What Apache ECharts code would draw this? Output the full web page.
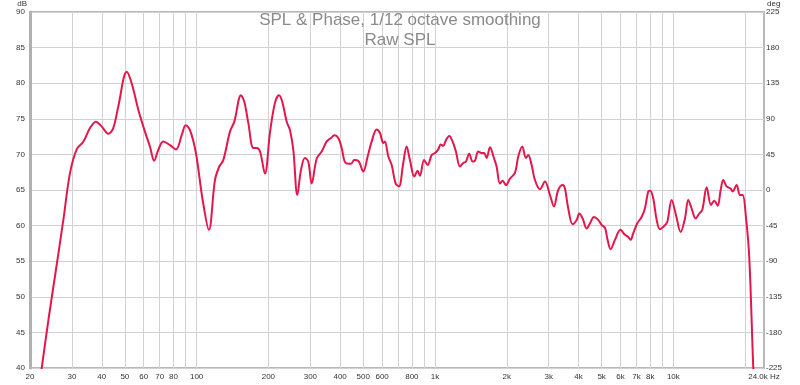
<!DOCTYPE html>
<html>
<head>
<meta charset="utf-8">
<script src="https://cdn.jsdelivr.net/npm/echarts@6/dist/echarts.min.js"></script>
<style>html,body{margin:0;padding:0;background:#fff}#c{width:800px;height:385px}</style>
</head>
<body>
<div id="c"></div>
<script>
const titleLines = ["SPL & Phase, 1/12 octave smoothing", "Raw SPL"];
const freqHz = [21,22.4,24,25.7,27.6,29.4,31.4,33.5,35.7,37.8,40,42.6,44.7,46.9,50.9,53.4,57,60.7,63.7,66.4,69,72.5,77.3,81.9,86.6,90,93.8,99.3,106,112.6,119.4,124.5,129.4,138,143.9,153.5,158.5,164.8,173,178.6,184.5,193.5,203,213,221.5,228.7,238.7,246.5,254.5,264.5,274,284.7,294,303.9,318.8,334.6,351,366,378,393,406,422,444,458.6,476.6,500,521.8,542.3,569.4,587.8,606.7,616,637,658,684,706,736,760,785,818.6,845.6,864.6,900,931.5,968,1000,1032,1056,1083,1111,1147,1186,1224,1273,1314,1349,1392,1439,1471,1519,1569,1605,1647,1701,1767,1813,1873,1922,1985,2063,2165,2235,2323,2407,2462,2543,2626,2756,2892,3036,3155,3288,3432,3509,3623,3779,3929,4029,4164,4326,4467,4643,4840,5000,5163,5281,5456,5687,6000,6265,6465,6616,6784,7051,7358,7597,7844,8000,8236,8508,8783,9129,9425,9834,10253,10729,11185,11547,11931,12401,12840,13218,13791,14376,14841,15339,15789,16190,16731,17394,17733,18427,19024,19526,20157,20811,21628,22000];
const splDb = [33,40,47.2,53.8,60.8,67.3,70.7,71.8,73.7,74.6,73.9,72.9,73.7,76.7,81.6,80.0,76.2,73.2,71.1,69.1,70.6,71.8,71.3,70.7,72.7,74.1,73.4,70.2,63.6,59.4,66.4,68.3,69.2,73.2,74.6,78.3,77.4,74.4,70.9,70.9,70.4,67.3,73.0,77.2,78.3,77.4,74.6,73.4,70.6,64.3,67.8,69.5,69.0,65.9,69.4,70.4,71.8,72.3,72.7,72.3,70.9,68.8,68.7,69.2,69.1,67.6,69.7,71.8,73.5,73.0,71.6,71.8,69.7,68.5,65.9,65.5,68.8,71.1,69.2,66.9,67.7,67.0,69.2,68.5,69.9,70.2,70.7,71.4,71.2,72.0,72.6,71.8,70.4,68.3,68.8,69.0,70.1,69.0,69.1,70.4,70.2,70.2,69.5,71.0,69.5,68.3,65.9,66.3,65.7,66.6,67.4,69.7,71.1,69.5,69.9,68.5,66.4,65.1,66.2,64.3,62.7,65.0,65.7,65.2,62.4,60.2,60.8,61.7,61.0,59.6,60.3,61.2,60.8,60.1,59.7,58.2,56.7,58.0,59.4,58.7,58.4,58.0,58.9,60.3,61.2,62.4,64.8,64.9,63.8,60.8,59.5,59.9,60.5,63.6,61.5,59.1,61.0,63.6,62.4,61.0,61.7,62.2,65.4,62.9,63.5,62.8,65.0,66.4,65.5,65.2,64.8,65.7,64.3,64.3,61.2,55.6,40.2,35];
const gridFreqs = [30,40,50,60,70,80,90,100,200,300,400,500,600,700,800,900,1000,2000,3000,4000,5000,6000,7000,8000,9000,10000,20000];
const labelFreqs = [20,30,40,50,60,70,80,100,200,300,400,500,600,800,1000,2000,3000,4000,5000,6000,7000,8000,10000,24000];
const dbMin = 40, dbMax = 90, dbStep = 5;
const degMin = -225, degMax = 225, degStep = 45;

const chart = echarts.init(document.getElementById('c'), null, {renderer: 'canvas'});
const font = 'Liberation Sans, Arial, sans-serif';
function fmtFreq(v) {
  if (v >= 24000) return '24.0k Hz';
  if (v >= 1000) return (v / 1000) + 'k';
  return String(v);
}
chart.setOption({
  animation: false,
  backgroundColor: '#ffffff',
  title: {
    text: titleLines.join('\n'),
    left: 'center',
    top: 5,
    textStyle: {color: '#8a8a8a', fontSize: 17, fontWeight: 'normal', fontFamily: font, lineHeight: 20}
  },
  grid: {left: 30, right: 36, top: 12, bottom: 17, show: true, borderColor: '#b8b8b8', borderWidth: 2, backgroundColor: 'transparent'},
  xAxis: {
    type: 'log', logBase: 10, min: 20, max: 24000,
    axisLine: {show: false},
    axisTick: {show: false, customValues: gridFreqs},
    splitLine: {show: true, lineStyle: {color: '#d2d2d2', width: 1}},
    axisLabel: {customValues: labelFreqs, formatter: fmtFreq, color: '#333', fontSize: 8, fontFamily: font, margin: 5, showMinLabel: true, showMaxLabel: true}
  },
  yAxis: [{
    type: 'value', min: dbMin, max: dbMax, interval: dbStep, position: 'left',
    name: 'dB', nameLocation: 'end', nameGap: 3,
    nameTextStyle: {color: '#333', fontSize: 8, fontFamily: font, align: 'right', verticalAlign: 'bottom', padding: [0, 3, 0, 0]},
    axisLine: {show: true, lineStyle: {color: '#b0b0b0', width: 3}}, axisTick: {show: false},
    splitLine: {show: true, lineStyle: {color: '#d2d2d2', width: 1}},
    axisLabel: {color: '#333', fontSize: 8, fontFamily: font, margin: 5}
  }, {
    type: 'value', min: degMin, max: degMax, interval: degStep, position: 'right',
    name: 'deg', nameLocation: 'end', nameGap: 3,
    nameTextStyle: {color: '#333', fontSize: 8, fontFamily: font, align: 'left', verticalAlign: 'bottom', padding: [0, 0, 0, 3]},
    axisLine: {show: false}, axisTick: {show: false}, splitLine: {show: false},
    axisLabel: {color: '#333', fontSize: 8, fontFamily: font, margin: 2}
  }],
  series: [{
    type: 'line', name: 'Raw SPL', yAxisIndex: 0,
    data: freqHz.map((f, i) => [f, splDb[i]]),
    showSymbol: false, smooth: 0.35, clip: true,
    lineStyle: {color: '#e3174b', width: 2},
    itemStyle: {color: '#e3174b'}
  }]
});
</script>
</body>
</html>
